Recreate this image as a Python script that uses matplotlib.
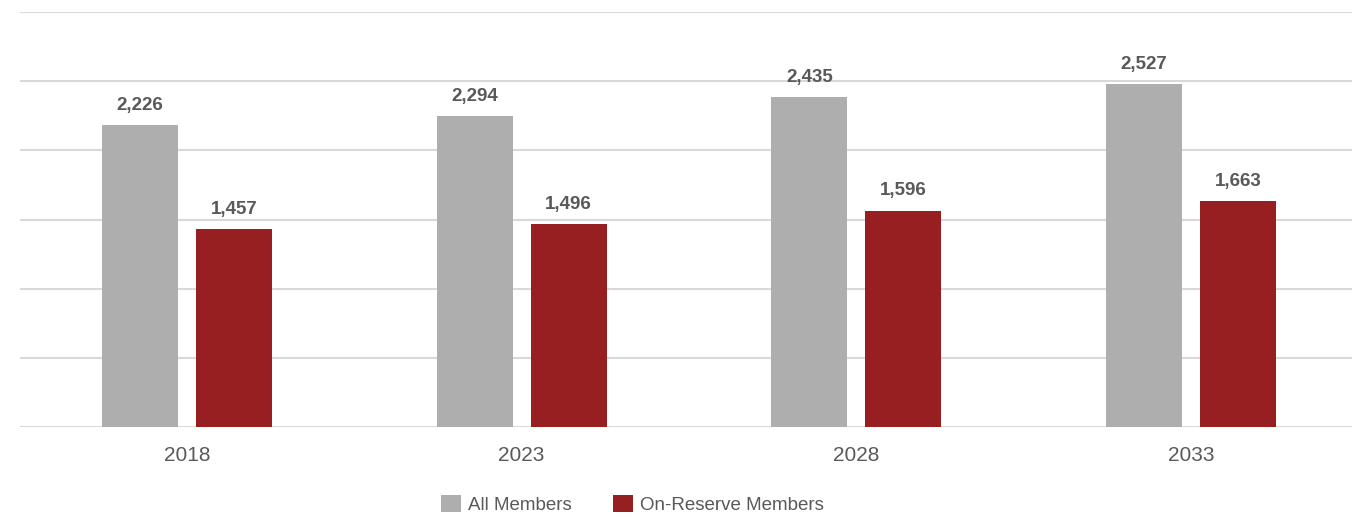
import matplotlib
matplotlib.use("Agg")
import matplotlib.pyplot as plt
import numpy as np

years = ["2018", "2023", "2028", "2033"]
all_members = [2226, 2294, 2435, 2527]
on_reserve = [1457, 1496, 1596, 1663]
series_names = ["All Members", "On-Reserve Members"]

GRAY = "#AEAEAE"
RED = "#971F22"
TEXT = "#595959"
GRID = "#D9D9D9"

plt.rcParams["font.family"] = ["Liberation Sans", "DejaVu Sans"]

W, H = 1352, 517
fig = plt.figure(figsize=(W / 100, H / 100), dpi=100)
# plot area runs slightly past the right edge of the canvas
ax = fig.add_axes([19.5 / W, 90 / H, 1339 / W, 415 / H])

x = np.arange(len(years))
width = 0.227
offset = 0.1404

b1 = ax.bar(x - offset, all_members, width, color=GRAY, label=series_names[0], zorder=3)
b2 = ax.bar(x + offset, on_reserve, width, color=RED, label=series_names[1], zorder=3)

for bars, vals in ((b1, all_members), (b2, on_reserve)):
    for rect, v in zip(bars, vals):
        ax.annotate(f"{v:,}", (rect.get_x() + rect.get_width() / 2, v),
                    xytext=(0, 8), textcoords="offset points",
                    ha="center", va="bottom", fontsize=13.5,
                    fontweight="bold", color=TEXT, zorder=4)

ymax = 3060
ax.set_ylim(0, ymax)
ax.set_xlim(-0.5, len(years) - 0.5)
ax.set_yticks(np.linspace(0, ymax, 7))
ax.yaxis.grid(True, color=GRID, linewidth=1.5, zorder=0)
ax.tick_params(axis="y", left=False, labelleft=False)
ax.set_xticks(x)
ax.set_xticklabels(years, fontsize=15, color=TEXT)
ax.tick_params(axis="x", length=0, pad=14)
for side in ("top", "right", "left", "bottom"):
    ax.spines[side].set_visible(False)

fig.legend(handles=[b1, b2], labels=series_names, loc="center left",
           bbox_to_anchor=(441 / W, 1 - 504.5 / H), ncol=2, frameon=False,
           fontsize=13.5, labelcolor=TEXT, handlelength=1.07, handleheight=1.0,
           handletextpad=0.37, columnspacing=2.2, borderpad=0, borderaxespad=0)

fig.savefig("out.png", dpi=100)
